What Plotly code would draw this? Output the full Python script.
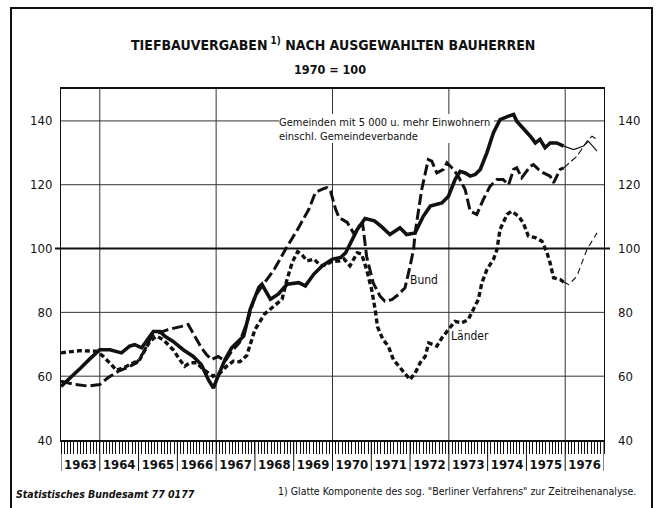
import plotly.graph_objects as go

# ---------------- data (decimal years, index 1970 = 100) ----------------
years = list(range(1963, 1977))
year_labels = [str(y) for y in years]
grid_years = [1964, 1967, 1970, 1973, 1976]
grid_values = [60, 80, 120, 140]
y_ticks = [40, 60, 80, 100, 120, 140]

gem_t = [1963.00, 1963.25, 1963.50, 1963.75, 1964.00, 1964.26, 1964.56, 1964.77, 1964.90, 1965.08,
         1965.38, 1965.55, 1965.68, 1965.89, 1966.15, 1966.41, 1966.62, 1966.80, 1966.93, 1967.05,
         1967.23, 1967.40, 1967.71, 1967.88, 1968.10, 1968.18, 1968.40, 1968.60, 1968.83, 1969.13,
         1969.30, 1969.52, 1969.74, 1970.00, 1970.21, 1970.34, 1970.51, 1970.64, 1970.84, 1971.08,
         1971.25, 1971.48, 1971.74, 1971.91, 1972.13, 1972.34, 1972.52, 1972.69, 1972.82, 1972.99,
         1973.16, 1973.29, 1973.42, 1973.55, 1973.68, 1973.81, 1973.98, 1974.15, 1974.32, 1974.54,
         1974.67, 1974.75, 1974.92, 1975.10, 1975.23, 1975.35, 1975.48, 1975.61, 1975.78, 1975.96]
gem_v = [56.8, 59.5, 62.5, 65.5, 68.3, 68.3, 67.3, 69.4, 69.9, 68.9,
         74.0, 74.0, 72.5, 70.9, 68.3, 66.2, 63.6, 58.9, 56.3, 60.0,
         65.2, 68.9, 72.6, 81.0, 87.8, 88.8, 84.1, 85.7, 88.8, 89.3,
         88.3, 92.0, 94.6, 96.7, 97.2, 98.7, 102.9, 106.0, 109.4, 108.7,
         107.0, 104.4, 106.5, 104.4, 104.9, 110.1, 113.3, 113.8, 114.3, 116.4,
         121.6, 124.2, 123.7, 122.7, 123.2, 124.8, 130.0, 136.3, 140.4, 141.5,
         142.0, 139.9, 137.8, 135.2, 133.1, 134.2, 131.6, 133.1, 133.1, 132.1]
gem_t_prov = [1975.96, 1976.22, 1976.47, 1976.60, 1976.82]
gem_v_prov = [132.1, 131.0, 132.1, 133.6, 130.5]

bund_t = [1963.00, 1963.35, 1963.70, 1964.00, 1964.21, 1964.47, 1964.69, 1964.95, 1965.12, 1965.33,
          1965.50, 1965.76, 1966.11, 1966.28, 1966.45, 1966.62, 1966.75, 1966.88, 1967.05, 1967.23,
          1967.40, 1967.60, 1967.80, 1968.00, 1968.20, 1968.50, 1968.80, 1969.10, 1969.39, 1969.56,
          1969.74, 1969.85, 1969.95, 1970.08, 1970.17, 1970.38, 1970.56, 1970.68, 1970.78, 1970.88,
          1971.05, 1971.23, 1971.35, 1971.53, 1971.70, 1971.87, 1972.00, 1972.09, 1972.13, 1972.30,
          1972.47, 1972.56, 1972.69, 1972.86, 1972.95, 1973.12, 1973.25, 1973.42, 1973.55, 1973.72,
          1973.89, 1974.06, 1974.24, 1974.40, 1974.54, 1974.67, 1974.75, 1974.88, 1975.10, 1975.18,
          1975.31, 1975.44, 1975.61, 1975.70, 1975.87, 1975.96]
bund_v = [58.4, 57.4, 56.9, 57.4, 59.5, 61.5, 62.6, 64.2, 67.3, 72.5,
          73.5, 74.6, 75.6, 76.2, 72.5, 68.9, 66.8, 65.2, 66.2, 64.7,
          67.8, 70.5, 77.0, 85.0, 88.5, 93.5, 100.0, 106.0, 112.3, 117.6,
          118.6, 119.1, 118.0, 112.3, 109.7, 108.2, 104.5, 107.0, 107.5, 97.5,
          89.2, 85.0, 83.5, 84.0, 85.6, 87.7, 94.5, 99.7, 104.9, 118.5,
          127.9, 127.4, 123.7, 124.8, 126.9, 124.8, 122.5, 118.5, 111.7, 110.7,
          115.4, 119.5, 121.6, 121.6, 120.0, 124.8, 125.3, 122.2, 125.8, 126.3,
          124.8, 123.7, 122.7, 120.6, 124.8, 125.3]
bund_t_prov = [1975.96, 1976.30, 1976.56, 1976.69, 1976.82]
bund_v_prov = [125.3, 128.9, 133.6, 135.2, 134.2]

laender_t = [1963.00, 1963.48, 1963.91, 1964.09, 1964.30, 1964.43, 1964.69, 1965.03, 1965.29, 1965.46,
             1965.63, 1965.89, 1966.06, 1966.19, 1966.32, 1966.50, 1966.67, 1966.92, 1967.10, 1967.27,
             1967.44, 1967.61, 1967.79, 1968.00, 1968.25, 1968.50, 1968.70, 1968.83, 1968.96, 1969.10,
             1969.20, 1969.35, 1969.52, 1969.70, 1969.82, 1970.00, 1970.17, 1970.30, 1970.45, 1970.64,
             1970.75, 1970.88, 1971.01, 1971.10, 1971.16, 1971.30, 1971.44, 1971.57, 1971.79, 1972.00,
             1972.13, 1972.26, 1972.39, 1972.48, 1972.60, 1972.69, 1972.82, 1972.95, 1973.16, 1973.33,
             1973.50, 1973.63, 1973.76, 1973.85, 1973.98, 1974.15, 1974.24, 1974.32, 1974.50, 1974.62,
             1974.80, 1974.92, 1975.05, 1975.23, 1975.40, 1975.53, 1975.61, 1975.70, 1975.87, 1975.96]
laender_v = [67.3, 68.0, 67.8, 66.2, 63.6, 61.8, 63.1, 65.2, 70.9, 72.5,
             71.5, 68.3, 65.2, 63.1, 64.2, 64.2, 62.1, 60.0, 61.0, 63.1,
             64.7, 64.5, 66.5, 74.6, 79.5, 82.0, 84.1, 90.4, 95.6, 99.0,
             98.2, 96.1, 96.7, 94.6, 94.8, 96.1, 96.1, 96.7, 94.6, 98.7,
             98.3, 93.4, 87.1, 80.9, 75.5, 71.5, 69.4, 65.2, 62.1, 58.9,
             61.0, 64.2, 66.2, 70.4, 69.9, 69.4, 72.0, 74.1, 77.2, 76.7,
             77.7, 80.9, 84.0, 89.2, 93.4, 96.6, 99.7, 106.0, 110.7, 111.7,
             110.1, 108.0, 103.9, 103.4, 102.3, 98.7, 95.5, 90.8, 90.3, 89.5]
laender_t_prov = [1975.96, 1976.09, 1976.30, 1976.47, 1976.56, 1976.82]
laender_v_prov = [89.5, 88.7, 91.3, 96.6, 99.7, 104.9]

# ---------------- figure ----------------
W, H = 659, 508
ML, MR, MT, MB = 61, 55, 89, 68
PW, PH = W - ML - MR, H - MT - MB
FONT = "Liberation Sans Narrow, DejaVu Sans Condensed, Arial Narrow, sans-serif"
INK = "#111111"
GRID = "#333333"

def px_x(px):
    return (px - ML) / PW

def px_y(py):
    return (H - MB - py) / PH

LABEL_L, LABEL_R = 279, 494  # pixel extent of the Gemeinden label (grid gap)

fig = go.Figure()

fig.add_trace(go.Scatter(x=gem_t, y=gem_v, mode="lines",
                         line=dict(color=INK, width=3.6), hoverinfo="skip", showlegend=False))
fig.add_trace(go.Scatter(x=gem_t_prov, y=gem_v_prov, mode="lines",
                         line=dict(color=INK, width=1.1), hoverinfo="skip", showlegend=False))
fig.add_trace(go.Scatter(x=bund_t, y=bund_v, mode="lines",
                         line=dict(color=INK, width=3.0, dash="11px,4px"), hoverinfo="skip", showlegend=False))
fig.add_trace(go.Scatter(x=bund_t_prov, y=bund_v_prov, mode="lines",
                         line=dict(color=INK, width=1.1, dash="7px,3px"), hoverinfo="skip", showlegend=False))
fig.add_trace(go.Scatter(x=laender_t, y=laender_v, mode="lines",
                         line=dict(color=INK, width=3.4, dash="5px,3px"), hoverinfo="skip", showlegend=False))
fig.add_trace(go.Scatter(x=laender_t_prov, y=laender_v_prov, mode="lines",
                         line=dict(color=INK, width=1.1, dash="6px,4px"), hoverinfo="skip", showlegend=False))
# invisible trace so that the right-hand value axis is drawn
fig.add_trace(go.Scatter(x=[years[0]], y=[y_ticks[0]], yaxis="y2", mode="markers",
                         marker=dict(opacity=0), hoverinfo="skip", showlegend=False))

shapes = []
# vertical grid lines
for gy in grid_years:
    shapes.append(dict(type="line", xref="x", yref="paper", x0=gy, x1=gy, y0=0, y1=1,
                       line=dict(color=GRID, width=1), layer="below"))
# horizontal grid lines (the top one is interrupted by the Gemeinden label)
for gv in grid_values:
    if gv == grid_values[-1]:
        segs = [(0, px_x(LABEL_L)), (px_x(LABEL_R), 1)]
    else:
        segs = [(0, 1)]
    for a, b in segs:
        shapes.append(dict(type="line", xref="paper", yref="y", x0=a, x1=b, y0=gv, y1=gv,
                           line=dict(color=GRID, width=1), layer="below"))
# white patch behind the label hides the vertical grid there
shapes.append(dict(type="rect", xref="paper", yref="paper", x0=px_x(LABEL_L), x1=px_x(LABEL_R),
                   y0=px_y(143), y1=px_y(114), fillcolor="white", line=dict(width=0),
                   layer="below"))
# year separators in the tick strip
for yb in years + [years[-1] + 1]:
    shapes.append(dict(type="line", xref="x", yref="paper", x0=yb, x1=yb, y0=0, y1=px_y(471),
                       line=dict(color=INK, width=1)))
# bold 100 line extending beyond the plot
shapes.append(dict(type="line", xref="paper", yref="y", x0=px_x(55), x1=px_x(610), y0=100, y1=100,
                   line=dict(color=INK, width=2)))
# outer border
shapes.append(dict(type="rect", xref="paper", yref="paper", x0=px_x(11), x1=px_x(652),
                   y0=px_y(530), y1=px_y(8), line=dict(color=INK, width=2)))

annotations = [
    dict(text="TIEFBAUVERGABEN<sup> 1)</sup> NACH AUSGEWAHLTEN BAUHERREN", xref="paper", yref="paper",
         x=px_x(333), y=px_y(44), showarrow=False, xanchor="center", yanchor="middle",
         font=dict(family=FONT, size=14, color=INK, weight="bold")),
    dict(text="1970 = 100", xref="paper", yref="paper", x=px_x(330), y=px_y(70), showarrow=False,
         xanchor="center", yanchor="middle", font=dict(family=FONT, size=12.5, color=INK, weight="bold")),
    dict(text="Gemeinden mit 5 000 u. mehr Einwohnern<br>einschl. Gemeindeverbande", xref="x", yref="y",
         x=1968.6, y=137.4, showarrow=False, xanchor="left", yanchor="middle", align="left",
         borderpad=0, font=dict(family=FONT, size=11, color=INK)),
    dict(text="Bund", xref="x", yref="y", x=1972.37, y=90.3, showarrow=False,
         xanchor="center", yanchor="middle", font=dict(family=FONT, size=12, color=INK)),
    dict(text="Länder", xref="x", yref="y", x=1973.54, y=72.5, showarrow=False,
         xanchor="center", yanchor="middle", font=dict(family=FONT, size=12, color=INK)),
    dict(text="<i>Statistisches Bundesamt 77 0177</i>", xref="paper", yref="paper",
         x=px_x(14), y=px_y(494), showarrow=False, xanchor="left", yanchor="middle",
         font=dict(family=FONT, size=10.5, color=INK, weight="bold")),
    dict(text="1) Glatte Komponente des sog. \"Berliner Verfahrens\" zur Zeitreihenanalyse.",
         xref="paper", yref="paper", x=px_x(638), y=px_y(491), showarrow=False,
         xanchor="right", yanchor="middle", font=dict(family=FONT, size=10.5, color=INK)),
]

fig.update_layout(
    width=W, height=H,
    margin=dict(l=ML, r=MR, t=MT, b=MB, pad=0, autoexpand=False),
    paper_bgcolor="white", plot_bgcolor="white",
    font=dict(family=FONT, color=INK),
    showlegend=False,
    shapes=shapes,
    annotations=annotations,
    xaxis=dict(range=[years[0], years[-1] + 1], tickmode="array",
               tickvals=[y + 0.5 for y in years], ticktext=year_labels,
               ticks="outside", ticklen=12, tickwidth=1, tickcolor=INK,
               minor=dict(tick0=years[0], dtick=1 / 12, ticks="outside", ticklen=12,
                          tickwidth=1, tickcolor=INK, showgrid=False),
               showgrid=False, zeroline=False, showline=True, linecolor=INK, linewidth=1.5,
               mirror=True, tickfont=dict(family=FONT, size=13, color=INK, weight="bold"),
               fixedrange=True, automargin=False),
    yaxis=dict(range=[40, 150], tickmode="array", tickvals=y_ticks,
               ticktext=[str(v) for v in y_ticks], ticks="", showgrid=False,
               zeroline=False, showline=True,
               linecolor=INK, linewidth=1, mirror=True, ticklabelstandoff=5,
               tickfont=dict(family=FONT, size=13, color=INK), fixedrange=True, automargin=False),
    yaxis2=dict(range=[40, 150], overlaying="y", side="right", tickmode="array",
                tickvals=y_ticks, ticktext=[str(v) for v in y_ticks], ticks="",
                showgrid=False, zeroline=False, showline=False, ticklabelstandoff=13,
                tickfont=dict(family=FONT, size=13, color=INK), fixedrange=True, automargin=False),
)

fig.write_html("out.html", config={"displayModeBar": False},
               post_script="document.body.style.margin='0px';document.body.style.padding='0px';")
